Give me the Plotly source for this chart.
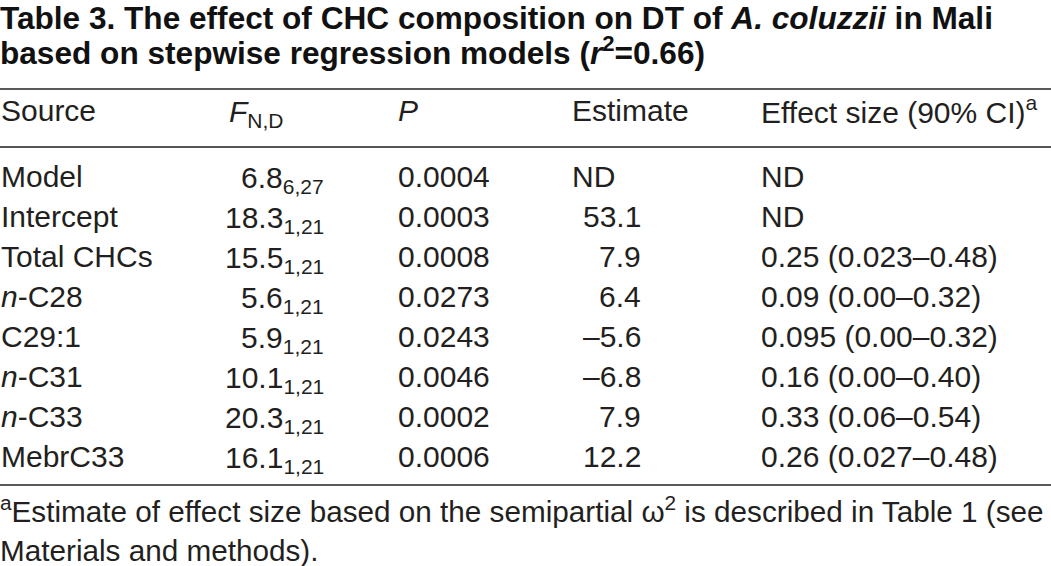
import plotly.graph_objects as go

# ---- data ----
title_lines = [
    "Table 3. The effect of CHC composition on DT of <i>A. coluzzii</i> in Mali",
    "based on stepwise regression models (<i>r</i><sup>2</sup>=0.66)",
]
headers = ["Source", "<i>F</i><sub>N,D</sub>", "<i>P</i>", "Estimate", "Effect size (90% CI)<sup>a</sup>"]
sources = ["Model", "Intercept", "Total CHCs", "<i>n</i>-C28", "C29:1", "<i>n</i>-C31", "<i>n</i>-C33", "MebrC33"]
f_values = ["6.8", "18.3", "15.5", "5.6", "5.9", "10.1", "20.3", "16.1"]
f_df = ["6,27", "1,21", "1,21", "1,21", "1,21", "1,21", "1,21", "1,21"]
p_values = ["0.0004", "0.0003", "0.0008", "0.0273", "0.0243", "0.0046", "0.0002", "0.0006"]
estimates = ["ND", "53.1", "7.9", "6.4", "–5.6", "–6.8", "7.9", "12.2"]
effects = ["ND", "ND", "0.25 (0.023–0.48)", "0.09 (0.00–0.32)", "0.095 (0.00–0.32)",
           "0.16 (0.00–0.40)", "0.33 (0.06–0.54)", "0.26 (0.027–0.48)"]
footnote_lines = [
    "<sup>a</sup>Estimate of effect size based on the semipartial ω<sup>2</sup> is described in Table 1 (see",
    "Materials and methods).",
]

# ---- layout ----
W, H = 1051, 566
BODY = "Liberation Sans, Arial, Helvetica, sans-serif"
TXT = "#231f20"
FS = 30
FN_FS = 29.7
TFS = 31.6

col_source = 1
col_f_right = 324
col_p = 398
col_est_left = 572
col_est_right = 641
col_eff = 761
header_y = 110
row_y0 = 176
row_h = 40

fig = go.Figure()
ann = []

def add(text, x, y, anchor="left", size=FS, color=TXT):
    ann.append(dict(text=text, x=x, y=y, xref="x", yref="y", xanchor=anchor, yanchor="middle",
                    align=anchor, showarrow=False, borderpad=0, borderwidth=0,
                    font=dict(family=BODY, size=size, color=color)))

add("<b>" + title_lines[0] + "</b>", 0, 18, size=TFS, color="#111111")
add("<b>" + title_lines[1] + "</b>", 0, 51, size=TFS, color="#111111")

add(headers[0], col_source, header_y)
add(headers[1], 229, header_y + 3)
add(headers[2], col_p, header_y)
add(headers[3], col_est_left, header_y)
add(headers[4], col_eff, header_y)

for i in range(len(sources)):
    y = row_y0 + i * row_h
    add(sources[i], col_source, y)
    add(f_values[i] + "<sub>" + f_df[i] + "</sub>", col_f_right, y + 3, anchor="right")
    add(p_values[i], col_p, y)
    if estimates[i] == "ND":
        add(estimates[i], col_est_left, y)
    else:
        add(estimates[i], col_est_right, y, anchor="right")
    add(effects[i], col_eff, y)

add(footnote_lines[0], 0, 509, size=FN_FS)
add(footnote_lines[1], 0, 550, size=FN_FS)

shapes = [
    dict(type="line", xref="x", yref="y", x0=0, x1=W, y0=89, y1=89, line=dict(color="#222222", width=1.5)),
    dict(type="line", xref="x", yref="y", x0=0, x1=W, y0=147, y1=147, line=dict(color="#555555", width=2)),
    dict(type="line", xref="x", yref="y", x0=0, x1=W, y0=485, y1=485, line=dict(color="#222222", width=1.5)),
]

fig.update_layout(
    width=W, height=H, margin=dict(l=0, r=0, t=0, b=0),
    paper_bgcolor="white", plot_bgcolor="white",
    xaxis=dict(range=[0, W], visible=False, fixedrange=True),
    yaxis=dict(range=[H, 0], visible=False, fixedrange=True),
    annotations=ann, shapes=shapes, showlegend=False,
)
fig.write_html(
    "out.html",
    config={"displayModeBar": False},
    post_script="document.body.style.margin='0';document.body.style.overflow='hidden';",
)
